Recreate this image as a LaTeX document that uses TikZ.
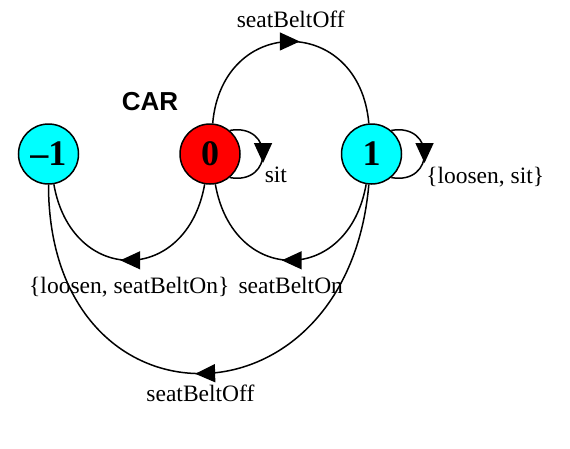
\documentclass[tikz,border=0pt]{standalone}
\usepackage{fontspec}
\setmainfont{Liberation Serif}
\newfontfamily\titlefont{Liberation Sans}
\usetikzlibrary{arrows.meta,automata,positioning,decorations.markings}

\definecolor{stateRed}{RGB}{255,0,0}
\definecolor{stateCyan}{RGB}{0,255,255}

\tikzset{
  midarrow/.style={
    postaction={decorate},
    decoration={markings,
      mark=at position 0.5 with {\arrow[xshift=9pt]{Triangle[length=20pt,width=18pt]}}}
  },
  edgelabel/.style={font=\fontsize{23.5}{26}\selectfont, inner sep=1pt}
}

\begin{document}
\begin{tikzpicture}[
    x = 1pt, y = 1pt,
    node distance = 100pt, % gap between the states
    line width = 1.5pt % line style
    ]

    \tikzset{every state/.style={
    draw = black,
    line width = 1.5pt,
    minimum size = 60pt,
    inner sep = 0pt,
    font = \bfseries\fontsize{36}{40}\selectfont
    }}
    \useasboundingbox (0,0) rectangle (570,-448);

    \node[state, fill=stateRed] (s0) at (210,-154) {0};
    \node[state, fill=stateCyan] (s1) [right=of s0] {1};
    \node[state, fill=stateCyan] (sm1) [left=of s0] {--1};
    \node[font=\titlefont\bfseries\fontsize{26}{30}\selectfont] (car) at (150,-102) {CAR};

    % transitions
    \path (s0) edge[midarrow, out=85, in=95, looseness=1.8]
        node[edgelabel, above=12pt] {seatBeltOff} (s1);
    \path (s0) edge[midarrow, out=-100, in=-80, looseness=1.75]
        node[edgelabel, below=15pt] {\{loosen, seatBeltOn\}} (sm1);
    \path (s1) edge[midarrow, out=-100, in=-80, looseness=1.75]
        node[edgelabel, below=15pt] {seatBeltOn} (s0);
    \path (s1) edge[midarrow, out=-95, in=-90, looseness=2.02]
        node[edgelabel, below=10pt] {seatBeltOff} (sm1);

    % self loops
    \path (s0.50) edge[midarrow, out=10, in=-10, looseness=2.45]
        node[edgelabel, pos=0.5, anchor=north west, yshift=-11pt] {sit} (s0.-50);
    \path (s1.50) edge[midarrow, out=10, in=-10, looseness=2.45]
        node[edgelabel, pos=0.5, anchor=north west, yshift=-11pt] {\{loosen, sit\}} (s1.-50);
\end{tikzpicture}
\end{document}
